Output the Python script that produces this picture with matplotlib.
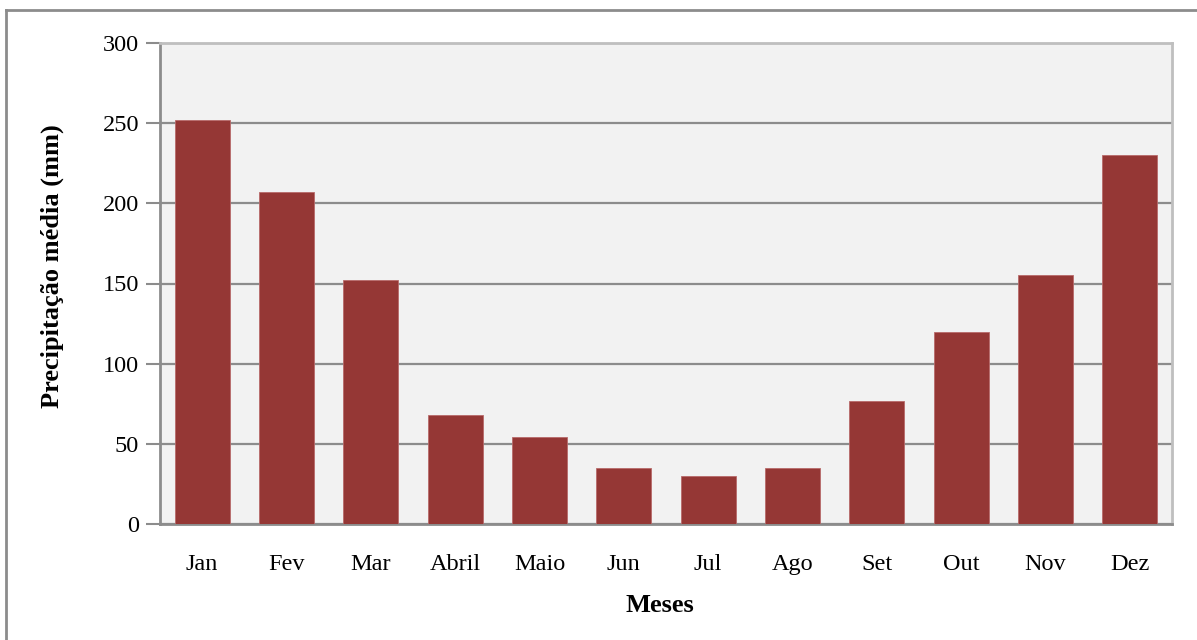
import matplotlib.pyplot as plt
from matplotlib.lines import Line2D

# Monthly mean precipitation (mm)
meses = ['Jan', 'Fev', 'Mar', 'Abril', 'Maio', 'Jun', 'Jul', 'Ago', 'Set', 'Out', 'Nov', 'Dez']
precipitacao = [252, 207, 152, 68, 54, 35, 30, 35, 77, 120, 155, 230]
yticks = [0, 50, 100, 150, 200, 250, 300]

plt.rcParams['font.family'] = ['Liberation Serif', 'DejaVu Serif']

fig = plt.figure(figsize=(11.97, 6.4), dpi=100)
ax = fig.add_axes([160 / 1197, 1 - 524 / 640, 1012 / 1197, 481 / 640])

x = range(len(meses))
ax.bar(x, precipitacao, width=0.65, color='#953735', edgecolor='#b86a6a',
       linewidth=0.6, zorder=3)

ax.set_facecolor('#f2f2f2')
ax.set_xlim(-0.5, len(meses) - 0.5)
ax.set_ylim(0, 300)
ax.set_yticks(yticks)
ax.set_xticks(list(x))
ax.set_xticklabels(meses)
ax.grid(axis='y', color='#8c8c8c', linewidth=1.6, zorder=1)

ax.tick_params(axis='y', length=10, width=1.5, color='#8c8c8c', labelsize=17.5, pad=5)
ax.tick_params(axis='x', length=0, labelsize=17.5, pad=21.5)

ax.spines['left'].set_color('#8c8c8c')
ax.spines['left'].set_linewidth(2)
ax.spines['bottom'].set_color('#8c8c8c')
ax.spines['bottom'].set_linewidth(2)
ax.spines['top'].set_color('#bfbfbf')
ax.spines['top'].set_linewidth(2)
ax.spines['right'].set_color('#bfbfbf')
ax.spines['right'].set_linewidth(2)

ax.set_xlabel('Meses', fontsize=19, fontweight='bold')
ax.set_ylabel('Precipitação média (mm)', fontsize=19, fontweight='bold')
ax.xaxis.set_label_coords(0.494, -0.145)
ax.yaxis.set_label_coords(-0.095, 0.536)

# Outer chart frame (left and top edges)
fig.add_artist(Line2D([6 / 1197, 6 / 1197], [0, 1 - 10 / 640], color='#8c8c8c',
                      linewidth=2, transform=fig.transFigure))
fig.add_artist(Line2D([6 / 1197, 1], [1 - 10 / 640, 1 - 10 / 640], color='#8c8c8c',
                      linewidth=2, transform=fig.transFigure))

fig.savefig('out.png', dpi=100)
